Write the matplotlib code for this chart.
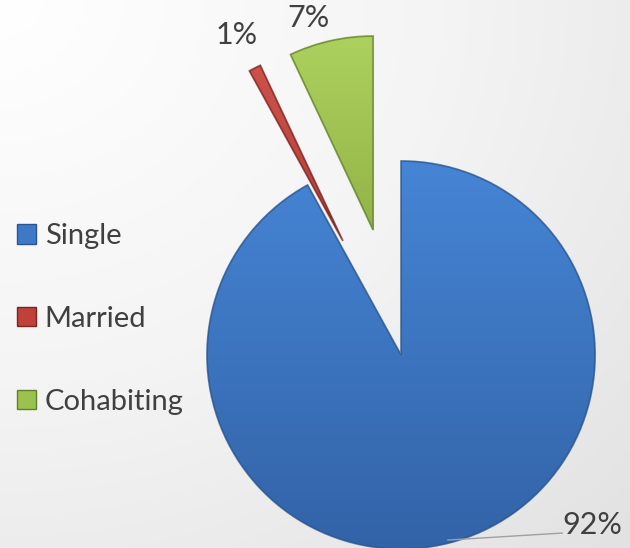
import numpy as np
import matplotlib
matplotlib.use("Agg")
import matplotlib.pyplot as plt
from matplotlib.colors import LinearSegmentedColormap
from matplotlib.patches import Patch, Wedge

plt.rcParams['font.family'] = ['Lato', 'DejaVu Sans']

# estado civil
categorias = ["Single", "Married", "Cohabiting"]
valores = [92, 1, 7]
separacion = [0.0, 0.66, 0.66]

colores = ["#3d79c7", "#c0403a", "#9bc24c"]
claros = ["#4686d6", "#d3544c", "#aed25f"]
oscuros = ["#3262a6", "#8e2a25", "#76962f"]
bordes = ["#2a5590", "#7a2420", "#62802a"]

fig = plt.figure(figsize=(6.30, 5.48), dpi=100)

# fondo gris degradado
fondo = fig.add_axes([0, 0, 1, 1])
fondo.set_axis_off()
yy, xx = np.mgrid[0:1:200j, 0:1:200j]
dist = np.sqrt(xx ** 2 + yy ** 2) / np.sqrt(2)
gris = LinearSegmentedColormap.from_list("g", ["#ffffff", "#f4f4f4", "#e2e2e2"])
fondo.imshow(dist, cmap=gris, extent=(0, 1, 0, 1), origin="upper", aspect="auto")
fondo.set_xlim(0, 1)
fondo.set_ylim(0, 1)

ax = fig.add_axes([0, 0, 1, 1])
ax.set_axis_off()
ax.patch.set_alpha(0)

cunas, _ = ax.pie(
    valores,
    explode=separacion,
    colors=colores,
    startangle=90,
    counterclock=False,
    radius=1.0,
    wedgeprops=dict(edgecolor="none"),
)

# relleno con degradado para dar volumen a cada porcion
grad = np.linspace(0, 1, 256).reshape(-1, 1)
for cuna, c1, c2, cb in zip(cunas, claros, oscuros, bordes):
    cmap = LinearSegmentedColormap.from_list("w", [c1, c2])
    x0, y0 = cuna.center
    im = ax.imshow(grad, cmap=cmap, extent=(x0 - 1.05, x0 + 1.05, y0 - 1.05, y0 + 1.05),
                   origin="upper", aspect="auto", zorder=2)
    im.set_clip_path(cuna)
    cuna.set_zorder(1)
    borde = Wedge(cuna.center, cuna.r, cuna.theta1, cuna.theta2,
                  facecolor="none", edgecolor=cb, linewidth=1.3,
                  alpha=0.75, zorder=3)
    ax.add_patch(borde)
ax.set_aspect("auto")
ax.set_xlim(-2.067, 1.180)
ax.set_ylim(-0.995, 1.830)

etiquetas = [f"{v}%" for v in valores]
texto = dict(fontsize=22, color="#404040", ha="center", va="center", zorder=5)
ax.text(-0.845, 1.649, etiquetas[1], **texto)
ax.text(-0.479, 1.737, etiquetas[2], **texto)
ax.text(0.985, -0.876, etiquetas[0], **texto)
ax.plot([0.242, 0.83], [-0.954, -0.918], color="#a0a0a0", linewidth=1.0, zorder=4)

manijas = [Patch(facecolor=c, edgecolor=b, linewidth=1.0) for c, b in zip(colores, bordes)]
fig.legend(manijas, categorias, loc="upper left", bbox_to_anchor=(0.027, 0.593),
           frameon=False, fontsize=21, labelcolor="#404040", borderpad=0, borderaxespad=0,
           handlelength=0.65, handleheight=0.65, handletextpad=0.3, labelspacing=1.95)

fig.savefig("out.png", dpi=100)
